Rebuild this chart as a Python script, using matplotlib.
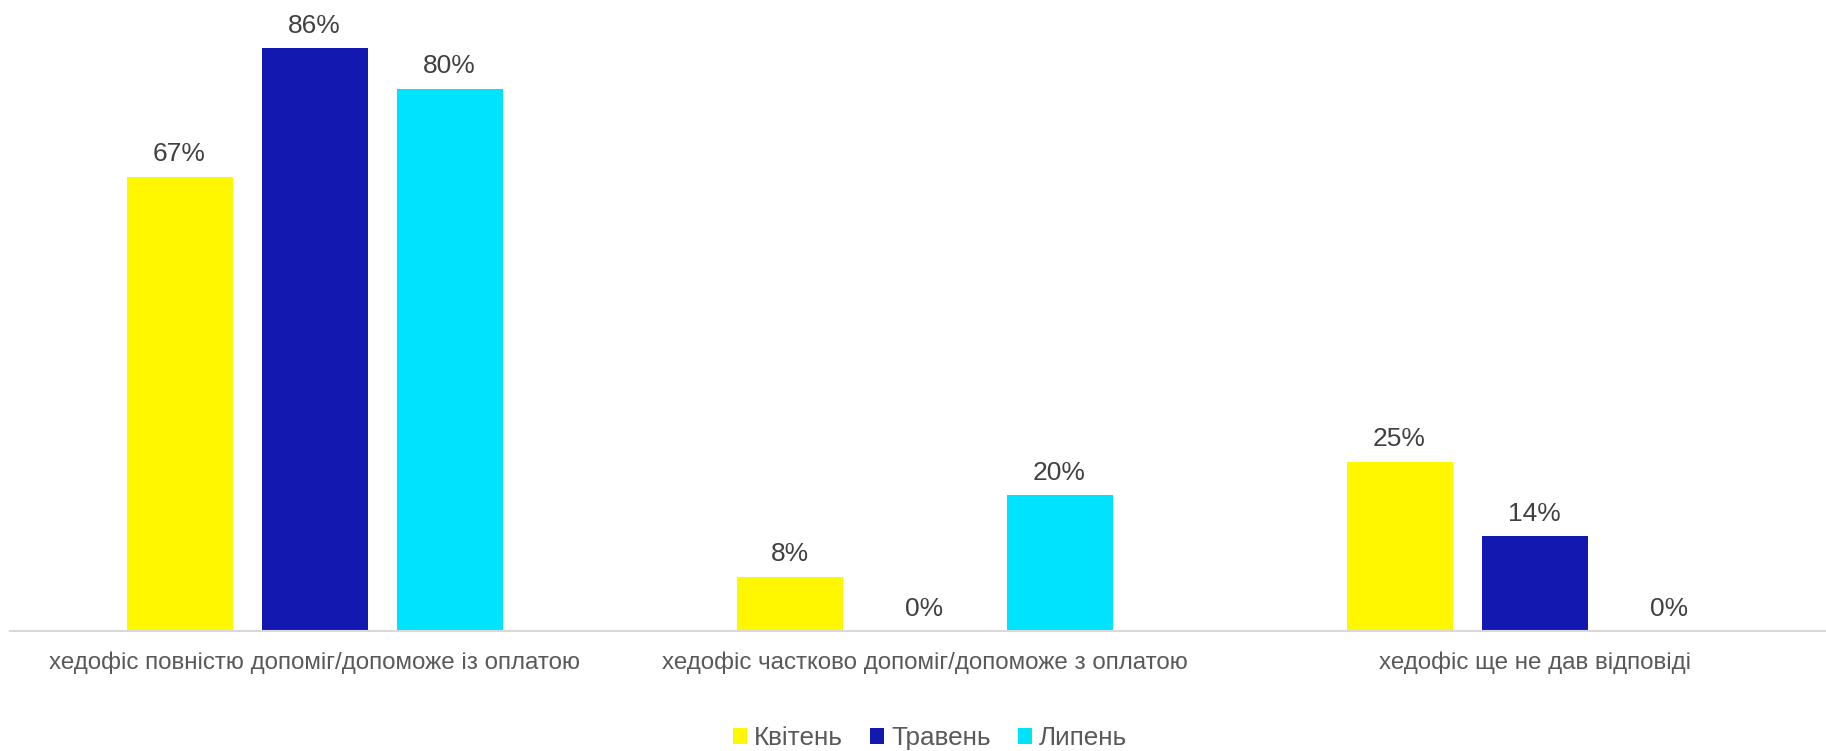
import matplotlib
matplotlib.use("Agg")
import matplotlib.pyplot as plt
from matplotlib.patches import Patch
import numpy as np

plt.rcParams['font.family'] = ['Liberation Sans', 'DejaVu Sans']

categories = [
    "хедофіс повністю допоміг/допоможе із оплатою",
    "хедофіс частково допоміг/допоможе з оплатою",
    "хедофіс ще не дав відповіді",
]
series_names = ["Квітень", "Травень", "Липень"]
april = [67, 8, 25]
may = [86, 0, 14]
july = [80, 20, 0]
series_values = [april, may, july]
colors = ["#FFF700", "#1319B0", "#00E3FF"]

W, H = 1826, 751
fig = plt.figure(figsize=(W / 100, H / 100), dpi=100)

# plot area: baseline at y=631 px, categories 610 px apart
base_px = 631
left_px = 9.5
cat_px = 610
ax = fig.add_axes([left_px / W, (H - base_px) / H, (W - left_px) / W, base_px / H])

x = np.arange(len(categories))
offset = 135 / cat_px
width = 106 / cat_px

for i, (name, vals, c) in enumerate(zip(series_names, series_values, colors)):
    bars = ax.bar(x + (i - 1) * offset, vals, width=width, color=c, label=name,
                  edgecolor="none", zorder=2)
    ax.bar_label(bars, labels=[f"{v}%" for v in vals], padding=7.5,
                 fontsize=19, color="#404040")

ax.set_xlim(-0.5, -0.5 + (W - left_px) / cat_px)
ax.set_ylim(0, base_px / 6.78)

for s in ["top", "right", "left"]:
    ax.spines[s].set_visible(False)
ax.spines["bottom"].set_color("#D9D9D9")
ax.spines["bottom"].set_linewidth(1.5)
ax.set_yticks([])
ax.set_xticks(x)
ax.set_xticklabels(categories, fontsize=17.4, color="#595959")
ax.tick_params(axis="x", length=0, pad=14.5)

handles = [Patch(facecolor=c, edgecolor="none") for c in colors]
fig.legend(handles, series_names, loc="center",
           bbox_to_anchor=(930 / W, 1 - 738 / H), ncol=3, frameon=False,
           fontsize=18.8, labelcolor="#595959", handlelength=0.55,
           handleheight=0.55, handletextpad=0.25, columnspacing=1.05,
           borderpad=0, borderaxespad=0)

fig.savefig("out.png", dpi=100)
